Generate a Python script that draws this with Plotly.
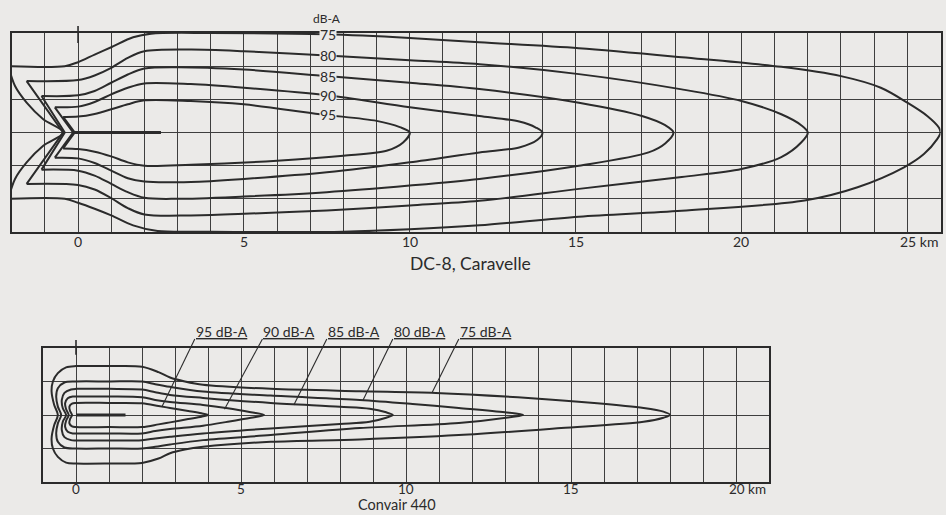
import plotly.graph_objects as go

W, H = 946, 515
BG = "#ebeae8"
INK = "#2b2b2b"
GRID = "#3e3e3e"
FONT = "Lato"

# ---------------- Top chart: DC-8, Caravelle (km) ----------------
top_levels = [75, 80, 85, 90, 95]
top_x_ticks = [0, 5, 10, 15, 20]
top_x_last = 25
top_runway_x = [-0.1, 2.5]

# 75 dB-A : curved left arc (apex -> corner)
t75_arc_ux = [-0.45, -1.05, -1.55, -1.9, -2.1]
t75_arc_uy = [0.0, 0.4, 0.9, 1.4, 2.0]
t75_arc_lx = [-0.45, -1.05, -1.55, -1.9, -2.1]
t75_arc_ly = [0.0, -0.4, -0.9, -1.4, -2.0]
t75_ux = [-2.1, -0.4, 0.0, 0.5, 1.0, 1.66, 2.2, 4.0, 7.5, 10.0, 12.1, 15.1, 18.2, 21.2, 23.0, 24.2, 25.0, 25.6, 25.95, 26.0]
t75_uy = [2.0, 2.0, 2.12, 2.35, 2.57, 2.87, 2.98, 3.0, 2.96, 2.85, 2.72, 2.54, 2.27, 1.98, 1.7, 1.35, 0.9, 0.5, 0.15, 0.0]
t75_lx = [-2.1, -0.4, 0.0, 0.5, 1.0, 1.66, 2.4, 4.0, 8.0, 10.0, 12.1, 15.1, 18.2, 21.9, 23.5, 24.9, 25.5, 25.9, 26.0]
t75_ly = [-2.0, -2.0, -2.12, -2.3, -2.5, -2.8, -2.97, -2.99, -2.99, -2.92, -2.8, -2.54, -2.36, -2.05, -1.65, -1.05, -0.65, -0.2, 0.0]

t80_apex = -0.45
t80_ux = [-1.55, 0.0, 0.5, 1.0, 1.5, 2.0, 3.4, 5.0, 7.5, 10.0, 12.1, 15.1, 18.2, 20.0, 21.2, 21.8, 22.0]
t80_uy = [1.55, 1.58, 1.72, 1.95, 2.25, 2.45, 2.5, 2.45, 2.32, 2.18, 2.06, 1.76, 1.3, 0.95, 0.55, 0.22, 0.0]
t80_lx = [-1.55, 0.0, 0.5, 1.0, 1.5, 2.0, 3.4, 5.0, 7.5, 10.0, 12.1, 15.1, 18.2, 20.0, 21.2, 21.8, 22.0]
t80_ly = [-1.55, -1.58, -1.72, -1.98, -2.28, -2.47, -2.5, -2.45, -2.35, -2.2, -2.06, -1.7, -1.34, -1.1, -0.74, -0.3, 0.0]

t85_apex = -0.4
t85_ux = [-1.1, 0.0, 0.5, 1.0, 1.5, 2.0, 3.0, 5.0, 7.5, 10.0, 12.1, 15.1, 17.0, 17.7, 17.95]
t85_uy = [1.1, 1.12, 1.25, 1.5, 1.75, 1.93, 1.97, 1.9, 1.7, 1.5, 1.31, 0.9, 0.5, 0.22, 0.0]
t85_lx = [-1.1, 0.0, 0.5, 1.0, 1.5, 2.0, 3.0, 5.0, 7.5, 10.0, 12.1, 15.1, 17.2, 17.7, 17.95]
t85_ly = [-1.12, -1.15, -1.3, -1.55, -1.8, -1.97, -2.0, -1.93, -1.8, -1.6, -1.4, -1.0, -0.6, -0.33, 0.0]

t90_apex = -0.15
t90_ux = [-0.7, 0.0, 0.5, 1.0, 1.5, 2.0, 3.4, 5.0, 7.5, 10.0, 12.1, 13.3, 13.8, 14.0]
t90_uy = [0.76, 0.78, 0.92, 1.15, 1.35, 1.48, 1.46, 1.35, 1.12, 0.76, 0.5, 0.33, 0.15, 0.0]
t90_lx = [-0.7, 0.0, 0.5, 1.0, 1.5, 2.0, 3.4, 5.0, 7.5, 10.0, 12.1, 13.3, 13.85, 14.0]
t90_ly = [-0.76, -0.78, -0.92, -1.15, -1.38, -1.48, -1.49, -1.4, -1.2, -0.9, -0.6, -0.45, -0.22, 0.0]

t95_apex = -0.1
t95_ux = [-0.45, 0.0, 0.5, 1.0, 1.5, 2.0, 3.4, 5.0, 7.3, 9.0, 9.7, 10.0]
t95_uy = [0.47, 0.48, 0.56, 0.7, 0.85, 0.97, 0.95, 0.85, 0.55, 0.35, 0.16, 0.0]
t95_lx = [-0.45, 0.0, 0.5, 1.0, 1.5, 2.0, 3.4, 6.0, 8.0, 9.3, 9.8, 10.0]
t95_ly = [-0.48, -0.5, -0.58, -0.72, -0.9, -1.0, -0.97, -0.85, -0.7, -0.55, -0.3, 0.0]

# contour label positions (top chart)
top_label_x = 7.55
top_label_y = [2.96, 2.32, 1.7, 1.12, 0.55]

# ---------------- Bottom chart: Convair 440 (km) ----------------
bot_levels = [75, 80, 85, 90, 95]
bot_x_ticks = [0, 5, 10, 15]
bot_x_last = 20
bot_runway_x = [0.0, 1.5]

b75_ux = [-0.55, -0.66, -0.74, -0.7, -0.55, -0.3, 0.0, 1.0, 2.0, 2.5, 2.85, 3.3, 3.85, 5.9, 8.6, 10.9, 13.7, 15.7, 17.2, 17.8, 18.0]
b75_uy = [0.0, 0.3, 0.7, 1.0, 1.25, 1.42, 1.46, 1.46, 1.44, 1.28, 1.12, 1.0, 0.9, 0.78, 0.71, 0.66, 0.51, 0.36, 0.21, 0.1, 0.0]
b75_lx = [-0.55, -0.66, -0.74, -0.7, -0.55, -0.3, 0.0, 1.0, 2.0, 2.5, 2.85, 3.3, 3.85, 5.9, 8.6, 11.6, 14.7, 17.2, 17.8, 18.0]
b75_ly = [0.0, -0.3, -0.7, -1.0, -1.25, -1.42, -1.45, -1.45, -1.43, -1.3, -1.14, -1.03, -0.95, -0.8, -0.73, -0.6, -0.39, -0.2, -0.08, 0.0]

b80_ux = [-0.45, -0.55, -0.6, -0.55, -0.35, 0.0, 1.0, 2.0, 2.4, 2.85, 3.85, 5.9, 8.6, 10.2, 11.6, 13.0, 13.55]
b80_uy = [0.0, 0.25, 0.55, 0.8, 0.97, 1.0, 1.0, 1.0, 0.92, 0.84, 0.7, 0.58, 0.45, 0.33, 0.21, 0.08, 0.0]
b80_lx = [-0.45, -0.55, -0.6, -0.55, -0.35, 0.0, 1.0, 2.0, 2.4, 2.85, 3.85, 5.9, 8.6, 11.6, 13.2, 13.55]
b80_ly = [0.0, -0.25, -0.55, -0.8, -0.97, -1.0, -1.0, -1.0, -0.95, -0.88, -0.75, -0.6, -0.39, -0.24, -0.06, 0.0]

b85_ux = [-0.3, -0.4, -0.43, -0.35, -0.15, 0.0, 1.0, 2.0, 2.4, 2.85, 3.85, 5.9, 8.0, 8.9, 9.4, 9.6]
b85_uy = [0.0, 0.2, 0.45, 0.66, 0.76, 0.78, 0.78, 0.76, 0.68, 0.6, 0.51, 0.36, 0.25, 0.19, 0.08, 0.0]
b85_lx = [-0.3, -0.4, -0.43, -0.35, -0.15, 0.0, 1.0, 2.0, 2.4, 2.85, 3.85, 5.9, 8.0, 8.9, 9.4, 9.6]
b85_ly = [0.0, -0.2, -0.45, -0.66, -0.75, -0.76, -0.76, -0.75, -0.7, -0.65, -0.55, -0.4, -0.27, -0.2, -0.08, 0.0]

b90_ux = [-0.22, -0.3, -0.33, -0.25, -0.1, 0.0, 1.0, 2.0, 2.4, 2.85, 3.85, 4.6, 5.3, 5.7]
b90_uy = [0.0, 0.17, 0.35, 0.5, 0.55, 0.55, 0.55, 0.53, 0.45, 0.39, 0.3, 0.2, 0.08, 0.0]
b90_lx = [-0.22, -0.3, -0.33, -0.25, -0.1, 0.0, 1.0, 2.0, 2.4, 2.85, 3.85, 4.6, 5.3, 5.7]
b90_ly = [0.0, -0.17, -0.35, -0.5, -0.55, -0.55, -0.55, -0.55, -0.48, -0.42, -0.32, -0.2, -0.08, 0.0]

b95_ux = [-0.12, -0.18, -0.2, -0.12, 0.0, 1.0, 2.0, 2.5, 2.85, 3.4, 3.8, 4.0]
b95_uy = [0.0, 0.12, 0.25, 0.34, 0.36, 0.36, 0.35, 0.27, 0.21, 0.12, 0.05, 0.0]
b95_lx = [-0.12, -0.18, -0.2, -0.12, 0.0, 1.0, 2.0, 2.5, 2.85, 3.4, 3.8, 4.0]
b95_ly = [0.0, -0.12, -0.25, -0.34, -0.36, -0.36, -0.36, -0.28, -0.22, -0.12, -0.05, 0.0]

# leader labels (bottom chart): label left edge x, and contour point they point at
bot_label_x = [3.6, 5.65, 7.6, 9.6, 11.6]
bot_label_text = ["95 dB-A", "90 dB-A", "85 dB-A", "80 dB-A", "75 dB-A"]
bot_leader_tx = [2.6, 4.5, 6.6, 8.7, 10.8]
bot_leader_ty = [0.24, 0.17, 0.3, 0.45, 0.69]

# ---------------- layout geometry ----------------
TOP_XR, TOP_YR = [-2, 26], [-3, 3]
BOT_XR, BOT_YR = [-1, 21], [-2, 2]
TOP_XD = [11.7 / W, 940.5 / W]
TOP_YD = [1 - 232 / H, 1 - 33 / H]
BOT_XD = [43 / W, 769 / W]
BOT_YD = [1 - 482 / H, 1 - 348 / H]


def ypap(v, dom, rng):
    return dom[0] + (v - rng[0]) / (rng[1] - rng[0]) * (dom[1] - dom[0])


fig = go.Figure()


def add(x, y, xa, ya, shape="spline", width=2):
    fig.add_trace(go.Scatter(x=x, y=y, xaxis=xa, yaxis=ya, mode="lines",
                             line=dict(color=INK, width=width, shape=shape, smoothing=0.9),
                             hoverinfo="skip", showlegend=False))


# top contours
add(t75_arc_lx[::-1] + t75_arc_ux[1:], t75_arc_ly[::-1] + t75_arc_uy[1:], "x", "y")
add(t75_ux + t75_lx[::-1][1:], t75_uy + t75_ly[::-1][1:], "x", "y")
for apex, ux, uy, lx, ly in [
    (t80_apex, t80_ux, t80_uy, t80_lx, t80_ly),
    (t85_apex, t85_ux, t85_uy, t85_lx, t85_ly),
    (t90_apex, t90_ux, t90_uy, t90_lx, t90_ly),
    (t95_apex, t95_ux, t95_uy, t95_lx, t95_ly),
]:
    add([lx[0], apex, ux[0]], [ly[0], 0, uy[0]], "x", "y", shape="linear")
    add(ux + lx[::-1][1:], uy + ly[::-1][1:], "x", "y")
add(top_runway_x, [0, 0], "x", "y", shape="linear", width=3.2)

# bottom contours
for ux, uy, lx, ly in [
    (b75_ux, b75_uy, b75_lx, b75_ly),
    (b80_ux, b80_uy, b80_lx, b80_ly),
    (b85_ux, b85_uy, b85_lx, b85_ly),
    (b90_ux, b90_uy, b90_lx, b90_ly),
    (b95_ux, b95_uy, b95_lx, b95_ly),
]:
    add(ux[::-1] + lx[1:], uy[::-1] + ly[1:], "x2", "y2")
add(bot_runway_x, [0, 0], "x2", "y2", shape="linear", width=3.2)

axis_common = dict(dtick=1, tick0=0, showgrid=True, gridcolor=GRID, gridwidth=1.3,
                   showline=True, mirror=True, linecolor=INK, linewidth=1.7,
                   showticklabels=False, ticks="", zeroline=False, fixedrange=True)

fig.update_layout(
    width=W, height=H, margin=dict(l=0, r=0, t=0, b=0),
    paper_bgcolor=BG, plot_bgcolor=BG, showlegend=False,
    xaxis=dict(domain=TOP_XD, range=TOP_XR, anchor="y", **axis_common),
    yaxis=dict(domain=TOP_YD, range=TOP_YR, anchor="x", **axis_common),
    xaxis2=dict(domain=BOT_XD, range=BOT_XR, anchor="y2", **axis_common),
    yaxis2=dict(domain=BOT_YD, range=BOT_YR, anchor="x2", **axis_common),
    font=dict(family=FONT, color=INK),
)

shapes = []
# x=0 line poking above each chart
shapes.append(dict(type="line", xref="x", yref="y domain", x0=0, x1=0, y0=0.95, y1=1.035,
                   line=dict(color=INK, width=1.6)))
shapes.append(dict(type="line", xref="x2", yref="y2 domain", x0=0, x1=0, y0=0.95, y1=1.06,
                   line=dict(color=INK, width=1.6)))
# leader lines
lead_top = 1 - 339 / H
for lx0, tx, ty in zip(bot_label_x, bot_leader_tx, bot_leader_ty):
    shapes.append(dict(type="line", xref="x2", yref="paper", x0=lx0, x1=tx,
                       y0=lead_top, y1=ypap(ty, BOT_YD, BOT_YR),
                       line=dict(color=INK, width=1.1)))
fig.update_layout(shapes=shapes)

ann = []
# top tick labels
ty_top = 1 - 242 / H
for v in top_x_ticks:
    ann.append(dict(x=v, y=ty_top, xref="x", yref="paper", text=str(v), showarrow=False,
                    font=dict(size=14, family=FONT, color=INK), xanchor="center", yanchor="middle"))
ann.append(dict(x=top_x_last, y=ty_top, xref="x", yref="paper", text=f"{top_x_last} km", showarrow=False,
                font=dict(size=14, family=FONT, color=INK), xanchor="left", xshift=-9, yanchor="middle"))
ann.append(dict(x=470 / W, y=1 - 263 / H, xref="paper", yref="paper", text="DC-8, Caravelle",
                showarrow=False, font=dict(size=17.5, family=FONT, color=INK), xanchor="center", yanchor="middle"))
ann.append(dict(x=327 / W, y=1 - 18 / H, xref="paper", yref="paper", text="dB-A",
                showarrow=False, font=dict(size=12, family=FONT, color=INK), xanchor="center", yanchor="middle"))
for lvl, yv in zip(top_levels, top_label_y):
    ann.append(dict(x=top_label_x, y=yv, xref="x", yref="y", text=str(lvl), showarrow=False,
                    font=dict(size=14, family=FONT, color=INK), bgcolor=BG, borderpad=0,
                    xanchor="center", yanchor="middle"))

# bottom tick labels
ty_bot = 1 - 489 / H
for v in bot_x_ticks:
    ann.append(dict(x=v, y=ty_bot, xref="x2", yref="paper", text=str(v), showarrow=False,
                    font=dict(size=13.5, family=FONT, color=INK), xanchor="center", yanchor="middle"))
ann.append(dict(x=bot_x_last, y=ty_bot, xref="x2", yref="paper", text=f"{bot_x_last} km", showarrow=False,
                font=dict(size=13.5, family=FONT, color=INK), xanchor="left", xshift=-9, yanchor="middle"))
ann.append(dict(x=397 / W, y=0.0, xref="paper", yref="paper", text="Convair 440",
                showarrow=False, font=dict(size=14.5, family=FONT, color=INK), xanchor="center", yanchor="bottom"))
for lx0, txt in zip(bot_label_x, bot_label_text):
    ann.append(dict(x=lx0, y=lead_top, xref="x2", yref="paper", text=f"<u>{txt}</u>", showarrow=False,
                    font=dict(size=14, family=FONT, color=INK), xanchor="left", yanchor="bottom",
                    xshift=-1, yshift=-3))
fig.update_layout(annotations=ann)

fig.write_html("out.html", config={"displayModeBar": False},
               post_script="document.body.style.margin='0';document.body.style.overflow='hidden';")
